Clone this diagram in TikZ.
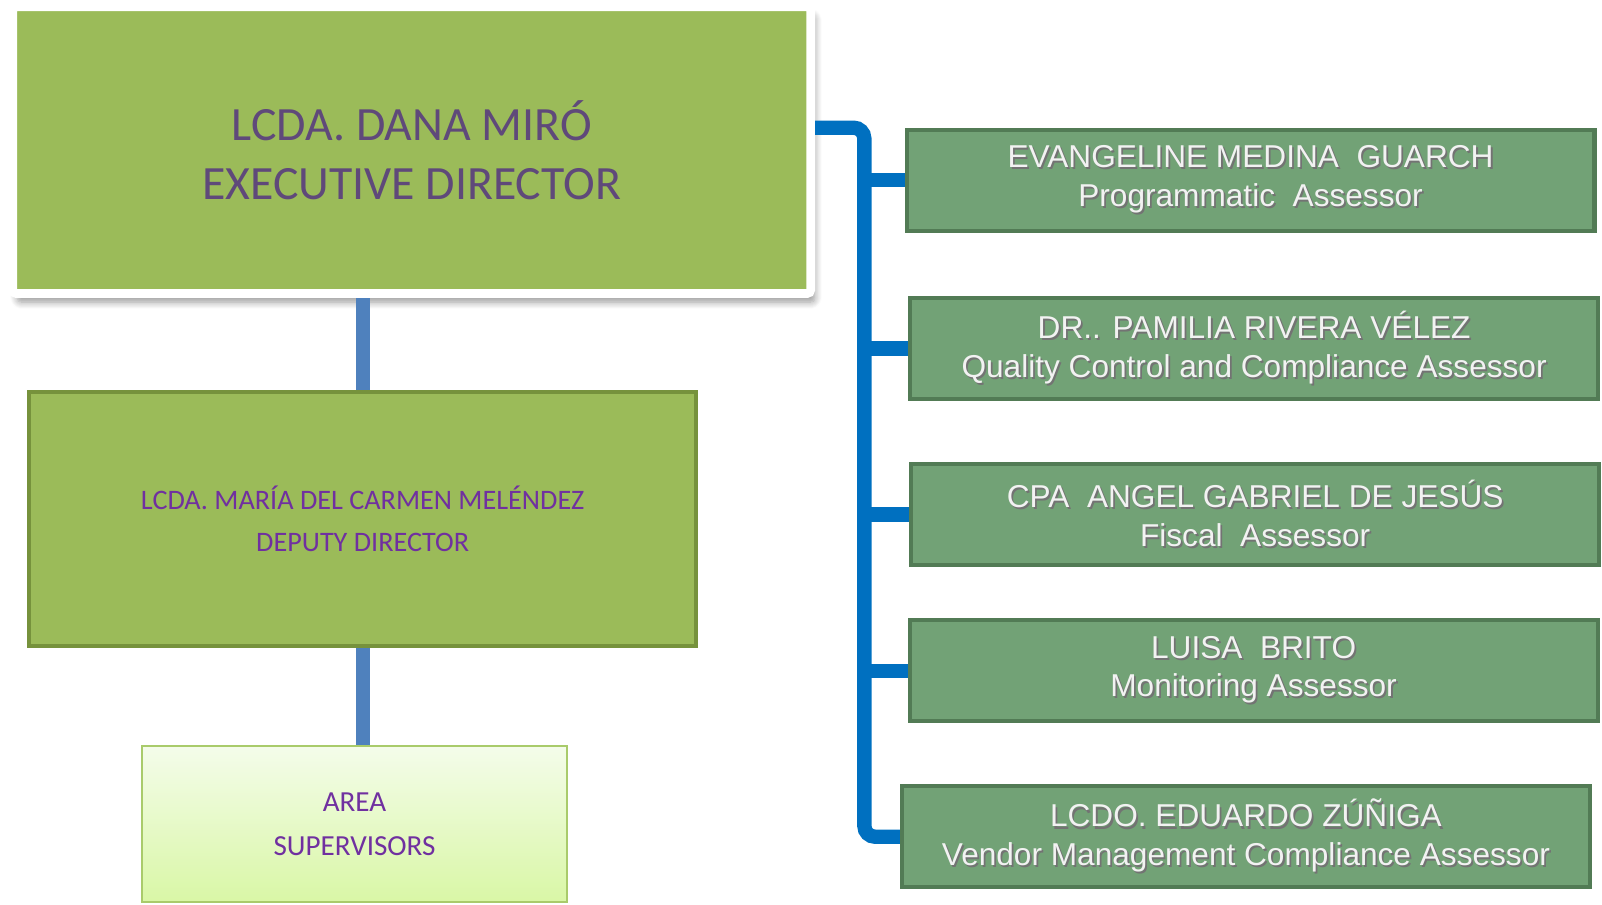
\documentclass[tikz,border=0pt]{standalone}
\usepackage{fontspec}
\setmainfont{Carlito}
\newfontfamily\arialfont{Liberation Sans}
\usetikzlibrary{shadows.blur}
\definecolor{leafgreen}{HTML}{9BBB59}
\definecolor{leafedge}{HTML}{76923C}
\definecolor{sagegreen}{HTML}{72A276}
\definecolor{sageedge}{HTML}{527B55}
\definecolor{paleedge}{HTML}{A9CB6B}
\definecolor{paletop}{HTML}{F4FCEA}
\definecolor{palebottom}{HTML}{D9F7A6}
\definecolor{plumtext}{HTML}{5F497A}
\definecolor{violettext}{HTML}{7030A0}
\definecolor{steelline}{HTML}{4F81BD}
\definecolor{busline}{HTML}{0070C0}
% white lettering with a soft dark shadow
\newcommand{\embossed}[1]{\rlap{\hspace{0.5pt}\raisebox{-0.6pt}{\color{black!55}#1}}#1}
\begin{document}
\begin{tikzpicture}[x=0.01cm, y=-0.01cm,
  execbox/.style={fill=leafgreen, draw=white, line width=0.085cm, rounded corners=1pt,
    minimum width=7.805cm, minimum height=2.805cm,
    blur shadow={shadow xshift=1.2pt, shadow yshift=-2.4pt, shadow blur steps=8,
      shadow blur extra rounding=1.2pt, shadow opacity=40},
    align=center, text=plumtext, font=\fontsize{13.3}{16.2}\selectfont},
  deputybox/.style={fill=leafgreen, draw=leafedge, line width=0.04cm, minimum width=6.52cm, minimum height=2.48cm,
    align=center, text=violettext, font=\fontsize{7.85}{11.6}\selectfont},
  areabox/.style={top color=paletop, bottom color=palebottom, draw=paleedge, line width=0.02cm,
    minimum width=4.16cm, minimum height=1.53cm, align=center, text=violettext, font=\fontsize{8.1}{12.2}\selectfont},
  assessor/.style={fill=sagegreen, draw=sageedge, line width=0.04cm, minimum width=6.73cm, minimum height=0.99cm,
    align=center, text=white!95!black, font=\arialfont\fontsize{8.8}{10.8}\selectfont},
  stem/.style={draw=steelline, line width=0.14cm},
  busconn/.style={draw=busline, line width=0.14cm}]
  \useasboundingbox (0,0) rectangle (1568,885);

  % left column
  \node[execbox] (exec) at (403,147) {LCDA. DANA MIRÓ\\EXECUTIVE DIRECTOR};
  \node[deputybox] (deputy) at (355,508) {LCDA. MARÍA DEL CARMEN MELÉNDEZ\\DEPUTY DIRECTOR};
  \node[areabox] (area) at (347,806.5) {AREA\\SUPERVISORS};
  \draw[stem] (deputy.north) -- (deputy.north |- exec.south);
  \draw[stem] (deputy.south) -- (deputy.south |- area.north);

  % assessors
  \node[assessor] (a1) at (1224,176.5) {\embossed{EVANGELINE MEDINA\ \ GUARCH}\\\embossed{Programmatic\ \ Assessor}};
  \node[assessor] (a2) at (1227.5,341) {\embossed{DR.. PAMILIA RIVERA VÉLEZ}\\\embossed{Quality Control and Compliance Assessor}};
  \node[assessor] (a3) at (1228.5,503.5) {\embossed{CPA\ \ ANGEL GABRIEL DE JESÚS}\\\embossed{Fiscal\ \ Assessor}};
  \node[assessor] (a4) at (1227,656.5) {\embossed{LUISA\ \ BRITO}\\\embossed{Monitoring Assessor}};
  \node[assessor] (a5) at (1219.5,819) {\embossed{LCDO. EDUARDO ZÚÑIGA}\\\embossed{Vendor Management Compliance Assessor}};

  \coordinate (bus) at (846,0);
  \draw[busconn, rounded corners=3pt] (exec.east |- a1.north) -| (bus |- a5.west) -- (a5.west);
  \foreach \k in {a1,a2,a3,a4}
    \draw[busconn] (bus |- \k.west) -- (\k.west);
\end{tikzpicture}
\end{document}
